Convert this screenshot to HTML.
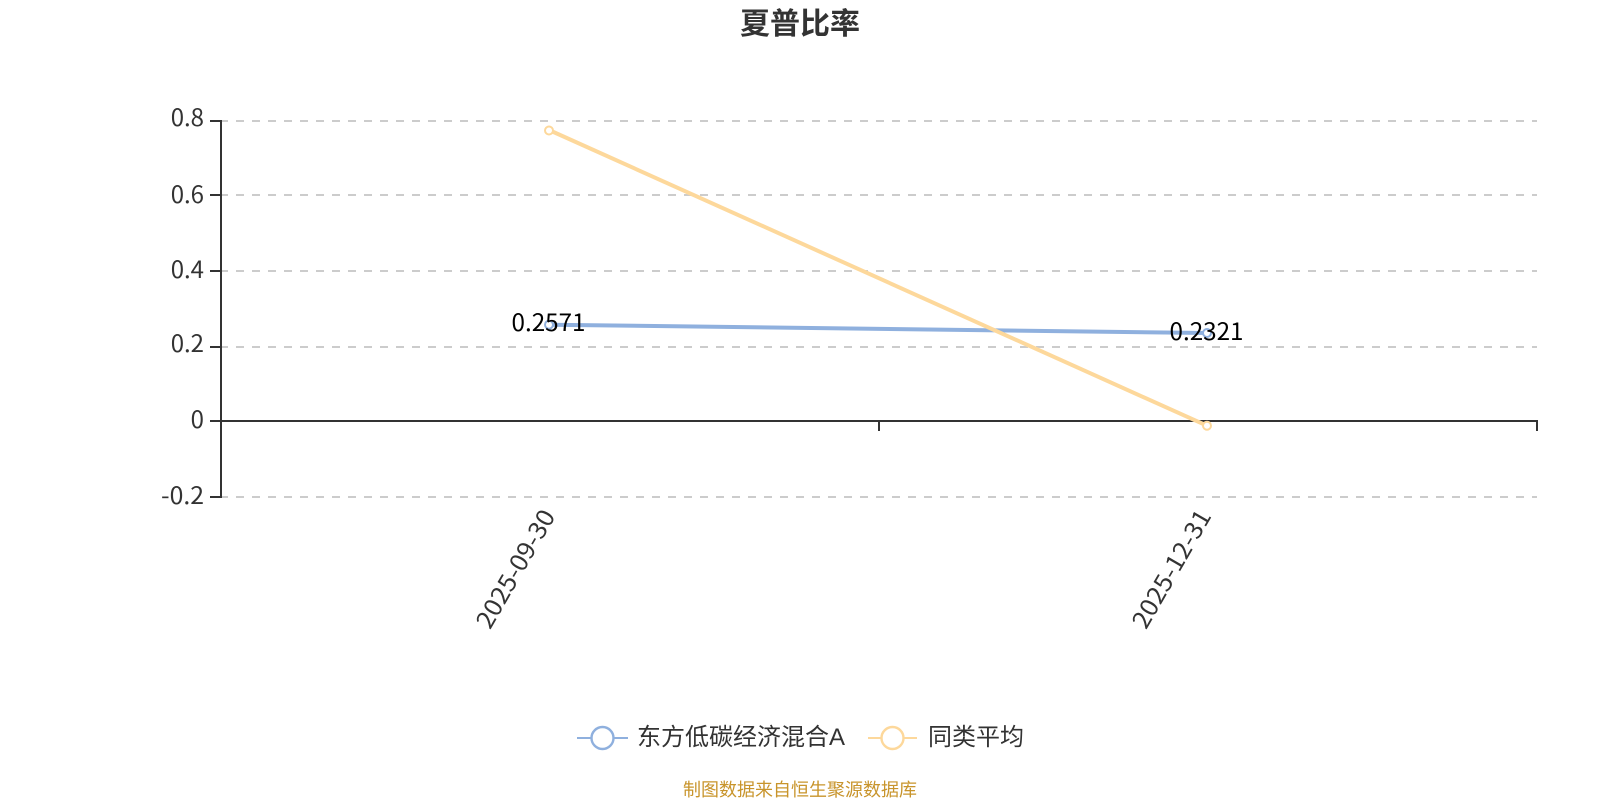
<!DOCTYPE html>
<html lang="zh">
<head>
<meta charset="utf-8">
<title>夏普比率</title>
<style>
html,body{margin:0;padding:0;background:#fff;width:1600px;height:800px;overflow:hidden}
svg{display:block}
text{font-family:"Noto Sans CJK SC","Liberation Sans",sans-serif}
</style>
</head>
<body>
<svg xmlns="http://www.w3.org/2000/svg" width="1600" height="800" viewBox="0 0 1600 800">
<rect width="1600" height="800" fill="#fff"/>
<text x="800" y="34" font-size="30" font-weight="700" fill="#333" text-anchor="middle">夏普比率</text>
<g stroke="#ccc" stroke-width="2" stroke-dasharray="8 8" fill="none">
<line x1="220" y1="121" x2="1537" y2="121"/>
<line x1="220" y1="195" x2="1537" y2="195"/>
<line x1="220" y1="271" x2="1537" y2="271"/>
<line x1="220" y1="347" x2="1537" y2="347"/>
<line x1="220" y1="497" x2="1537" y2="497"/>
</g>
<g stroke="#333" stroke-width="2" fill="none">
<line x1="221" y1="120" x2="221" y2="498"/>
<line x1="210" y1="121" x2="221" y2="121"/>
<line x1="210" y1="195" x2="221" y2="195"/>
<line x1="210" y1="271" x2="221" y2="271"/>
<line x1="210" y1="347" x2="221" y2="347"/>
<line x1="210" y1="421" x2="1538" y2="421"/>
<line x1="210" y1="497" x2="221" y2="497"/>
<line x1="879" y1="421" x2="879" y2="431"/>
<line x1="1537" y1="421" x2="1537" y2="431"/>
</g>
<g font-size="24" fill="#333" text-anchor="end">
<text x="204" y="126">0.8</text>
<text x="204" y="203">0.6</text>
<text x="204" y="278">0.4</text>
<text x="204" y="352">0.2</text>
<text x="204" y="428">0</text>
<text x="204" y="504" textLength="43" lengthAdjust="spacingAndGlyphs">-0.2</text>
<text transform="translate(556 516) rotate(-60)" textLength="132" lengthAdjust="spacingAndGlyphs">2025-09-30</text>
<text transform="translate(1212 516) rotate(-60)" textLength="132" lengthAdjust="spacingAndGlyphs">2025-12-31</text>
</g>
<line x1="549" y1="324.7" x2="1207" y2="333" stroke="#8fb0de" stroke-width="4"/>
<circle cx="549" cy="324.7" r="4" fill="#fff" stroke="#8fb0de" stroke-width="2"/>
<circle cx="1207" cy="333" r="4" fill="#fff" stroke="#8fb0de" stroke-width="2"/>
<line x1="549" y1="130" x2="1207" y2="425.7" stroke="#fdd89b" stroke-width="4"/>
<circle cx="549" cy="130.5" r="4" fill="#fff" stroke="#fdd89b" stroke-width="2"/>
<circle cx="1207" cy="425.7" r="4" fill="#fff" stroke="#fdd89b" stroke-width="2"/>
<g font-size="24" fill="#000" text-anchor="middle">
<text x="548.5" y="331" textLength="74" lengthAdjust="spacingAndGlyphs">0.2571</text>
<text x="1206.5" y="340" textLength="74" lengthAdjust="spacingAndGlyphs">0.2321</text>
</g>
<line x1="577" y1="738" x2="628" y2="738" stroke="#8fb0de" stroke-width="2"/>
<circle cx="602.5" cy="738" r="11" fill="#fff" stroke="#8fb0de" stroke-width="2.4"/>
<text x="637" y="745" font-size="24" fill="#333">东方低碳经济混合<tspan font-family="Liberation Sans">A</tspan></text>
<line x1="868" y1="738" x2="917" y2="738" stroke="#fdd89b" stroke-width="2"/>
<circle cx="892.5" cy="738" r="11" fill="#fff" stroke="#fdd89b" stroke-width="2.4"/>
<text x="928" y="745" font-size="24" fill="#333">同类平均</text>
<text x="800" y="796" font-size="18" fill="#c8942b" text-anchor="middle">制图数据来自恒生聚源数据库</text>
</svg>
</body>
</html>
